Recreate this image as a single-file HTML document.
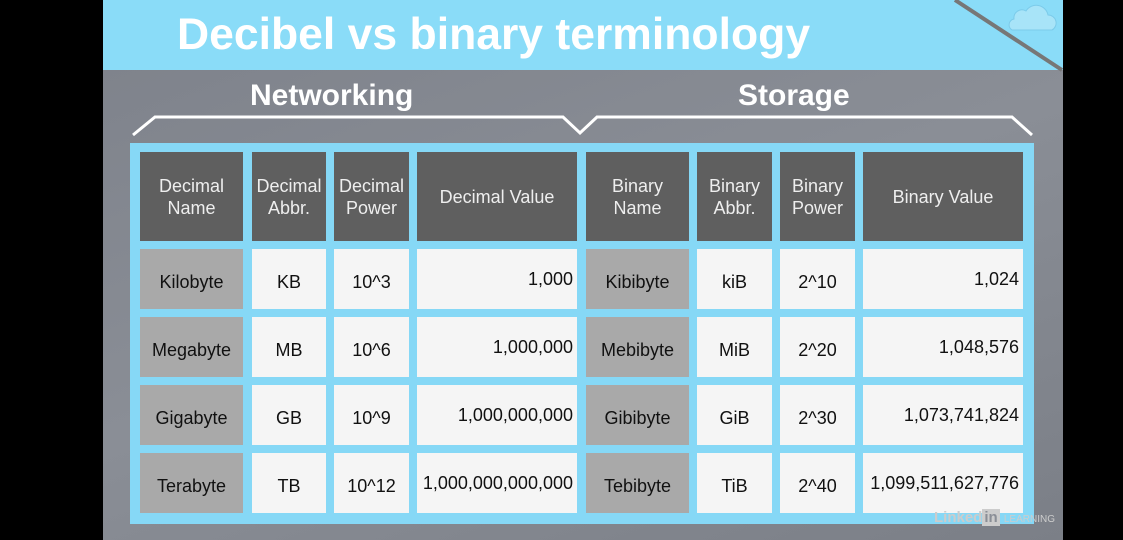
<!DOCTYPE html>
<html><head><style>
body{margin:0;width:1123px;height:540px;background:#000;position:relative;overflow:hidden;font-family:"Liberation Sans",sans-serif}
.slide{position:absolute;left:103px;top:0;width:960px;height:540px;background:linear-gradient(160deg,#7d818a,#8a8e96 50%,#7b7f87)}
.hdr{position:absolute;left:103px;top:0;width:960px;height:70px;background:#8adcf8}
.title{position:absolute;left:177px;top:10px;font-size:44.5px;font-weight:bold;color:#fff}
.sec{position:absolute;top:79px;font-size:30px;font-weight:bold;color:#fff}
.tbl{position:absolute;left:130px;top:143px;width:904px;height:381px;background:#86d8f6}
.c{position:absolute;display:flex;align-items:center;justify-content:center;text-align:center;font-size:18px;color:#111;box-sizing:border-box}
.h{background:#5f5f5f;color:#eee;line-height:22px}
.w{background:#f5f5f5}
.g{background:#a9a9a9}
.b{padding-top:6px}
.r{justify-content:flex-end;padding-right:4px;padding-top:0}
</style></head><body>
<div class="slide"></div>
<div class="hdr"></div>
<svg style="position:absolute;left:0;top:0" width="1123" height="540">
<line x1="955" y1="0" x2="1062" y2="70" stroke="#777" stroke-width="4"/>
<path d="M1012 30 h40 a8 8 0 0 0 -4 -15 a12 12 0 0 0 -22 -4 a8 8 0 0 0 -12 8 a6 6 0 0 0 -2 11z" fill="#a8e4f8" stroke="#7ccbea"/>
<polyline points="133,135 155,117 563,117 580,133 597,117 1012,117 1032,135" fill="none" stroke="#fff" stroke-width="3"/>
</svg>
<div class="title">Decibel vs binary terminology</div>
<div class="sec" style="left:250px">Networking</div>
<div class="sec" style="left:738px">Storage</div>
<div class="tbl"></div>
<div id="cells"></div>
<div style="position:absolute;left:934px;top:509px;font-size:15px;font-weight:bold;color:#ccc">Linked<span style="background:#ccc;color:#8a8e96;padding:0 2px">in</span> <span style="font-size:10px;font-weight:normal">LEARNING</span></div>
<script>
var cx=[[140,103],[252,74],[334,75],[417,160],[586,103],[697,75],[780,75],[863,160]];
var ry=[[152,89],[249,60],[317,60],[385,60],[453,60]];
var d=[["Decimal<br>Name","Decimal<br>Abbr.","Decimal<br>Power","Decimal Value","Binary<br>Name","Binary<br>Abbr.","Binary<br>Power","Binary Value"],
["Kilobyte","KB","10^3","1,000","Kibibyte","kiB","2^10","1,024"],
["Megabyte","MB","10^6","1,000,000","Mebibyte","MiB","2^20","1,048,576"],
["Gigabyte","GB","10^9","1,000,000,000","Gibibyte","GiB","2^30","1,073,741,824"],
["Terabyte","TB","10^12","1,000,000,000,000","Tebibyte","TiB","2^40","1,099,511,627,776"]];
var h="";
for(var r=0;r<5;r++)for(var c=0;c<8;c++){
var cls=r==0?"h":(c==0||c==4?"g b":"w b");
if(r>0&&(c==3||c==7))cls+=" r";
h+='<div class="c '+cls+'" style="left:'+cx[c][0]+'px;top:'+ry[r][0]+'px;width:'+cx[c][1]+'px;height:'+ry[r][1]+'px">'+d[r][c]+'</div>';}
document.getElementById("cells").innerHTML=h;
</script>
</body></html>
